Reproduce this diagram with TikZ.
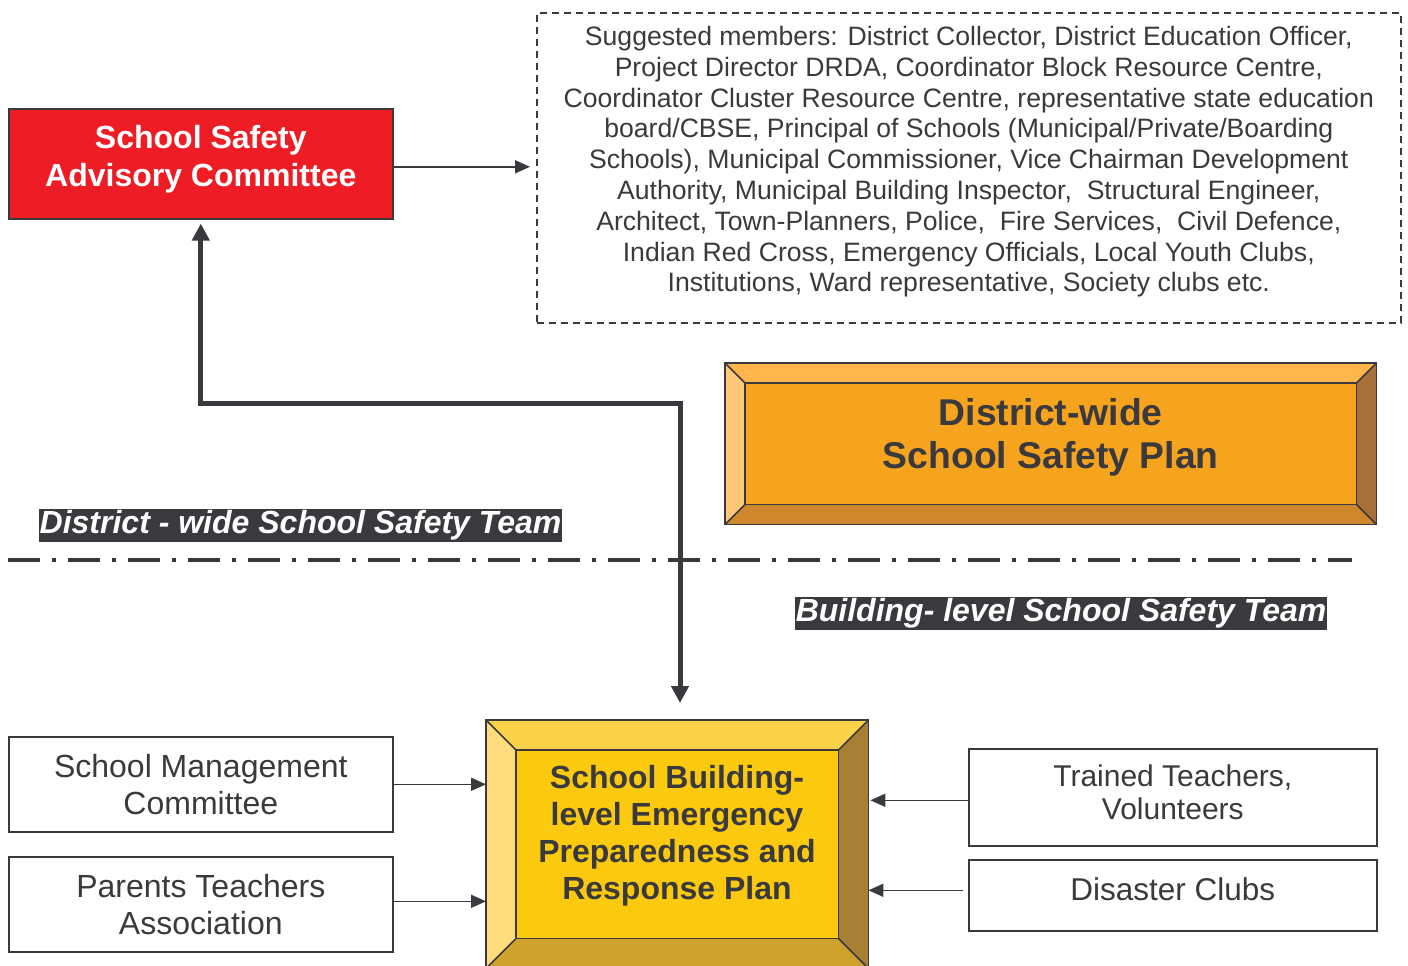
\documentclass[tikz,border=0pt]{standalone}
\usepackage{fontspec}
\setmainfont{Liberation Sans}
\usetikzlibrary{arrows.meta,calc}
\definecolor{ink}{HTML}{3A393D}
\definecolor{redbox}{HTML}{EE1D25}
\definecolor{oTop}{HTML}{FDB54C}
\definecolor{oLeft}{HTML}{FEC878}
\definecolor{oRight}{HTML}{A7703A}
\definecolor{oBot}{HTML}{D0872C}
\definecolor{oIn}{HTML}{F6A31D}
\definecolor{yTop}{HTML}{FDD24B}
\definecolor{yLeft}{HTML}{FEDC7E}
\definecolor{yRight}{HTML}{A88035}
\definecolor{yBot}{HTML}{CEA22C}
\definecolor{yIn}{HTML}{FBCA0E}
\newcommand\bevelbox[7]{%
  \fill[#3] (#1.north west) -- (#1.north east) -- ($(#1.north east)+(-#2,#2)$) -- ($(#1.north west)+(#2,#2)$) -- cycle;
  \fill[#4] (#1.north west) -- ($(#1.north west)+(#2,#2)$) -- ($(#1.south west)+(#2,-#2)$) -- (#1.south west) -- cycle;
  \fill[#5] (#1.north east) -- ($(#1.north east)+(-#2,#2)$) -- ($(#1.south east)+(-#2,-#2)$) -- (#1.south east) -- cycle;
  \fill[#6] (#1.south west) -- ($(#1.south west)+(#2,-#2)$) -- ($(#1.south east)+(-#2,-#2)$) -- (#1.south east) -- cycle;
  \filldraw[#7,draw=ink,line width=1.6pt] ($(#1.north west)+(#2,#2)$) rectangle ($(#1.south east)+(-#2,-#2)$);
  \draw[ink,line width=1.6pt] (#1.north west) -- ($(#1.north west)+(#2,#2)$)
     (#1.north east) -- ($(#1.north east)+(-#2,#2)$)
     (#1.south west) -- ($(#1.south west)+(#2,-#2)$)
     (#1.south east) -- ($(#1.south east)+(-#2,-#2)$);
  \draw[ink,line width=1.6pt] (#1.north west) rectangle (#1.south east);
}
\tikzset{
  plainbox/.style={draw=ink, line width=1.6pt, fill=white, anchor=north west, inner sep=0pt, align=center, text=ink},
  arr/.style={draw=ink, line width=1.6pt, -{Triangle[length=15pt,width=13pt]}},
  bigarr/.style={draw=ink, line width=5pt, line join=miter,
     {Triangle[length=17pt,width=17pt]}-{Triangle[length=17pt,width=17pt]}},
  teamlabel/.style={fill=ink, text=white, inner xsep=1pt, inner ysep=1.5pt,
     font=\fontsize{32}{34}\selectfont\bfseries\itshape},
}
\begin{document}
\begin{tikzpicture}[x=1pt,y=-1pt]
\useasboundingbox (0,0) rectangle (1408,966);
\fill[white] (0,0) rectangle (1408,966);

% red committee box
\node[plainbox, fill=redbox, minimum width=384, minimum height=110] (sac) at (8,108) {};
\node[text=white, align=center, font=\fontsize{32}{38}\selectfont\bfseries] (sactext) at ($(sac.center)+(0,-5)$)
  {School Safety\\Advisory Committee};

% dashed members box
\node[plainbox, dashed, dash pattern=on 7pt off 5pt, line width=1.6pt, minimum width=864, minimum height=310] (members) at (536,12) {};
\node[text=ink, align=center, font=\fontsize{26.6}{30.8}\selectfont] (memberstext) at ($(members.center)+(0,-6)$)
  {Suggested members: District Collector, District Education Officer,\\
   Project Director DRDA, Coordinator Block Resource Centre,\\
   Coordinator Cluster Resource Centre, representative state education\\
   board/CBSE, Principal of Schools (Municipal/Private/Boarding\\
   Schools), Municipal Commissioner, Vice Chairman Development\\
   Authority, Municipal Building Inspector,\ \ Structural Engineer,\\
   Architect, Town-Planners, Police,\ \ Fire Services,\ \ Civil Defence,\\
   Indian Red Cross, Emergency Officials, Local Youth Clubs,\\
   Institutions, Ward representative, Society clubs etc.};

\draw[arr, shorten >=6pt] ($(sac.east)+(0,3)$) -- ($(sac.east -| members.west)+(0,3)$);

% district-wide plan bevel box
\node[anchor=north west, minimum width=651, minimum height=161, inner sep=0pt] (dplan) at (725,363) {};
\bevelbox{dplan}{20}{oTop}{oLeft}{oRight}{oBot}{oIn}
\node[text=ink, align=center, font=\fontsize{37.3}{43}\selectfont\bfseries] (dplantext) at ($(dplan.center)+(0,-6)$)
  {District-wide\\School Safety Plan};

% building-level plan bevel box
\node[anchor=north west, minimum width=382, minimum height=248, inner sep=0pt] (bplan) at (486,720) {};
\bevelbox{bplan}{30}{yTop}{yLeft}{yRight}{yBot}{yIn}
\node[text=ink, align=center, font=\fontsize{32}{37}\selectfont\bfseries] (bplantext) at (677,836)
  {School Building-\\level Emergency\\Preparedness and\\Response Plan};

% separator
\draw[ink, line width=4pt, dash pattern=on 32pt off 12pt on 4pt off 12pt] (8,560) -- (1352,560);

% team labels
\node[teamlabel] (dteam) at (300.5,525.5) {District - wide School Safety Team};
\node[teamlabel] (bteam) at (1061,613.5) {Building- level School Safety Team};

% main connector
\coordinate (jn) at (680,403);
\coordinate (btip) at (680,703);
\draw[bigarr] ($(sac.south)+(0,4)$) |- (jn) -- (btip);

% left boxes
\node[plainbox, minimum width=384, minimum height=95, font=\fontsize{32}{37}\selectfont] (smc) at (8,736)
  {School Management\\Committee};
\node[plainbox, minimum width=384, minimum height=95, font=\fontsize{32}{37}\selectfont] (pta) at (8,856)
  {Parents Teachers\\Association};
\draw[arr] (smc.east) -- (smc.east -| bplan.west);
\draw[arr] ($(pta.east)+(0,-3)$) -- ($(pta.east -| bplan.west)+(0,-3)$);

% right boxes
\node[plainbox, minimum width=408, minimum height=97] (ttv) at (968,748) {};
\node[text=ink, align=center, font=\fontsize{30}{33}\selectfont] (ttvtext) at ($(ttv.center)+(0,-5)$)
  {Trained Teachers,\\Volunteers};
\node[plainbox, minimum width=408, minimum height=71] (dc) at (968,859) {};
\node[text=ink, font=\fontsize{31.5}{33}\selectfont] (dctext) at ($(dc.center)+(0,-6)$) {Disaster Clubs};
\draw[arr] ($(ttv.west)+(0,3)$) -- ($(ttv.west -| bplan.east)+(2,3)$);
\draw[arr] ($(dc.west)+(-5,-5)$) -- ($(dc.west -| bplan.east)+(0,-5)$);
\end{tikzpicture}
\end{document}
